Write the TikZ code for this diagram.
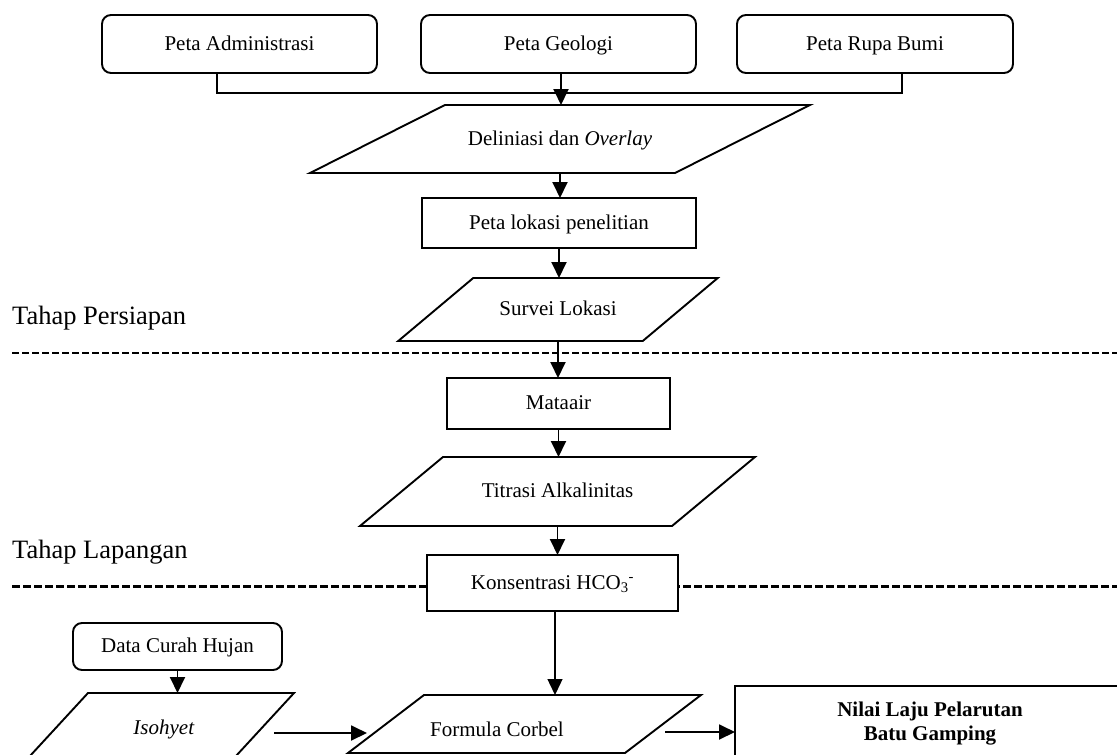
\documentclass[tikz,border=0pt]{standalone}
\usepackage{fontspec}
\setmainfont{Liberation Serif}
\usetikzlibrary{arrows.meta,calc}
\newcommand\drawpara[2]{\draw[ln] ($(#1.south west)+(-#2,0)$) -- ($(#1.north west)+(#2,0)$) -- ($(#1.north east)+(#2,0)$) -- ($(#1.south east)+(-#2,0)$) -- cycle;}
\begin{document}
\begin{tikzpicture}[x=1pt,y=-1pt,
  base/.style={draw,line width=1.9pt,inner sep=0pt,outer sep=0pt,font=\fontsize{21}{25}\selectfont,align=center,fill=white,text height=16.5pt,text depth=4pt},
  rbox/.style={base,rounded corners=9pt},
  sbox/.style={base},
  pbox/.style={inner sep=0pt,outer sep=0pt,font=\fontsize{21}{25}\selectfont,align=center,text height=16.5pt,text depth=4pt},
  txt/.style={inner sep=0pt,font=\fontsize{21}{24}\selectfont,align=center},
  arr/.style={line width=1.9pt,-{Triangle[length=16pt,width=15pt]}},
  ln/.style={line width=1.9pt,line join=miter},
  sep1/.style={line width=1.9pt,dash pattern=on 7pt off 3pt},
  sep2/.style={line width=3pt,dash pattern=on 8pt off 3pt},
  phase/.style={font=\fontsize{26.5}{30}\selectfont,anchor=west,inner sep=0pt}
]
\useasboundingbox (0,0) rectangle (1117,755);
\clip (0,0) rectangle (1117,755);

% separators
\coordinate (s1a) at (12,353);
\coordinate (s1b) at (1117,353);
\coordinate (s2a) at (12,586);
\coordinate (s2b) at (1117,586);
\draw[sep1] (s1a) -- (s1b);
\draw[sep2] (s2a) -- (s2b);

\node[phase] (tp) at (12,318) {Tahap Persiapan};
\node[phase] (tl) at (12,552) {Tahap Lapangan};

% top sources
\node[rbox,minimum width=275pt,minimum height=58pt] (adm) at (239.5,44) {Peta Administrasi};
\node[rbox,minimum width=275pt,minimum height=58pt] (geo) at (558.5,44) {Peta Geologi};
\node[rbox,minimum width=276pt,minimum height=58pt] (rb) at (875,44) {Peta Rupa Bumi};

% main column
\node[pbox,minimum width=365pt,minimum height=68pt] (del) at (560,139) {Deliniasi dan \textit{Overlay}};
\drawpara{del}{67.5}
\node[sbox,minimum width=274pt,minimum height=50pt] (pl) at (559,223) {Peta lokasi penelitian};
\node[pbox,minimum width=244.5pt,minimum height=63pt] (sv) at (558,309.5) {Survei Lokasi};
\drawpara{sv}{37.5}
\node[sbox,minimum width=223pt,minimum height=51pt] (mt) at (558.5,403.5) {Mataair};
\node[pbox,minimum width=312pt,minimum height=69pt] (ti) at (557.5,491.5) {Titrasi Alkalinitas};
\drawpara{ti}{41.5}
\node[sbox,minimum width=251pt,minimum height=56pt] (ko) at (552.5,583) {Konsentrasi HCO\textsubscript{3}\textsuperscript{-}};

% bottom row
\node[rbox,minimum width=209pt,minimum height=47pt] (dch) at (177.5,646.5) {Data Curah Hujan};
\node[pbox,minimum width=206pt,minimum height=76pt] (iso) at (156,731) {};
\drawpara{iso}{35}
\node[txt] (isot) at (164,729) {\textit{Isohyet}};
\node[pbox,minimum width=277pt,minimum height=58pt] (fc) at (524.5,724) {};
\drawpara{fc}{38}
\node[txt] (fct) at (497,729) {Formula Corbel};
\node[sbox,minimum width=390pt,minimum height=94pt] (nl) at (930,733) {};
\node[txt,font=\fontsize{21}{23.5}\selectfont\bfseries] (nlt) at (930,723.5) {Nilai Laju Pelarutan\\Batu Gamping};

% connectors
\draw[ln] ([xshift=-22.5pt]adm.south) -- ++(0,20) -| ([xshift=27pt]rb.south);
\draw[arr] ([xshift=2.5pt]geo.south) -- ([xshift=2.5pt]geo.south |- del.north);
\draw[arr] (del.south) -- (del.south |- pl.north);
\draw[arr] (pl.south) -- (pl.south |- sv.north);
\draw[arr] (sv.south) -- (sv.south |- mt.north);
\draw[arr] (mt.south) -- (mt.south |- ti.north);
\draw[arr] (ti.south) -- (ti.south |- ko.north);
\draw[arr,line width=1.4pt] ([xshift=2.5pt]ko.south) -- ([xshift=2.5pt]ko.south |- fc.north);
\draw[arr] (dch.south) -- (dch.south |- iso.north);
\draw[arr] ($(iso.east)+(15,2)$) -- ($(iso.east -| fc.west)+(-19,2)$);
\draw[arr] ($(fc.east)+(2,8)$) -- ($(fc.east -| nl.west)+(0,8)$);
\end{tikzpicture}
\end{document}
